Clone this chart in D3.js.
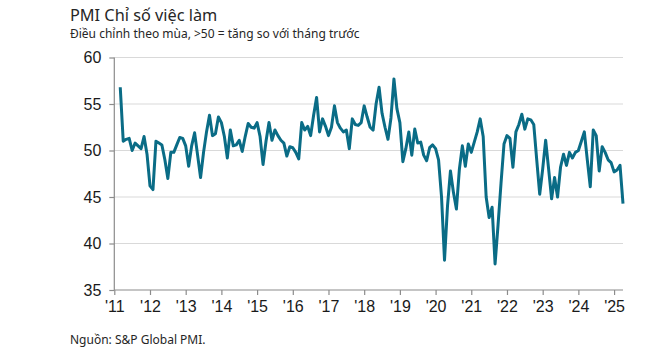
<!DOCTYPE html>
<html>
<head>
<meta charset="utf-8">
<script src="https://cdn.jsdelivr.net/npm/d3@7"></script>
<style>
  body { margin: 0; background: #fff; }
  svg { display: block; }
</style>
</head>
<body>
<div id="chart"></div>
<script>
// monthly employment index, Mar 2011 .. Apr 2025
var startMonth = 2; // months after Jan 2011
var values = [
  56.8, 51.0, 51.2, 51.3, 50.0, 50.8, 50.5, 50.2, 51.5, 49.6,
  46.2, 45.8, 51.0, 50.8, 50.6, 49.0, 47.0, 49.8, 49.8, 50.6, 51.4, 51.3,
  50.5, 48.3, 50.5, 51.9, 49.5, 47.1, 49.8, 52.0, 53.8, 51.6, 51.8, 53.6,
  53.0, 51.5, 49.2, 52.2, 50.5, 50.6, 51.1, 49.9, 51.5, 52.9, 52.5, 52.4,
  53.0, 51.5, 48.5, 51.0, 53.0, 51.1, 52.2, 51.6, 51.1, 50.8, 49.4, 50.4,
  50.3, 49.8, 49.1, 53.0, 52.2, 52.6, 51.6, 53.8, 55.7, 52.0, 53.4, 52.6,
  51.6, 52.5, 54.8, 53.0, 52.4, 52.0, 52.2, 50.2, 53.4, 52.8, 52.7, 53.0,
  54.8, 53.6, 52.5, 52.2, 55.0, 56.8, 54.0, 52.5, 51.2, 53.5, 57.7, 54.5,
  53.0, 48.8, 50.2, 52.0, 49.5, 52.3, 50.8, 50.9, 49.5, 48.9, 50.3, 50.6,
  50.2, 49.0, 45.0, 38.2, 44.0, 47.8, 45.5, 43.7, 48.0, 50.5, 48.3, 50.7,
  49.8, 50.9, 52.0, 53.4, 51.5, 45.0, 42.8, 43.9, 37.8, 42.0, 46.5, 50.7,
  51.6, 51.3, 48.2, 52.0, 52.8, 53.9, 52.3, 53.4, 53.3, 52.8, 49.0, 45.3,
  48.0, 51.1, 48.0, 44.8, 47.1, 45.0, 48.2, 49.6, 48.4, 49.8, 49.2, 49.8,
  50.0, 51.0, 52.0, 49.0, 46.1, 52.2, 51.6, 47.8, 50.4, 49.8, 49.0, 48.7,
  47.7, 47.9, 48.4, 44.3
];
var yearLabels = ["'11", "'12", "'13", "'14", "'15", "'16", "'17", "'18",
                  "'19", "'20", "'21", "'22", "'23", "'24", "'25"];
var yTicks = [35, 40, 45, 50, 55, 60];

var W = 669, H = 352;
var svg = d3.select("#chart").append("svg")
    .attr("width", W)
    .attr("height", H);

var x = d3.scaleLinear().domain([0, 171]).range([114.3, 623]);
var y = d3.scaleLinear().domain([35, 60]).range([290, 57.5]);

// titles
svg.append("text")
    .attr("x", 70).attr("y", 21)
    .style("font-family", "'Source Sans Pro', 'Noto Sans', sans-serif")
    .style("font-size", "16.3px")
    .style("fill", "#262626")
    .text("PMI Chỉ số việc làm");
svg.append("text")
    .attr("x", 70).attr("y", 38)
    .style("font-family", "'Source Sans Pro', 'Noto Sans', sans-serif")
    .style("font-size", "12px")
    .style("fill", "#262626")
    .text("Điều chỉnh theo mùa, >50 = tăng so với tháng trước");
svg.append("text")
    .attr("x", 70).attr("y", 344)
    .style("font-family", "'Source Sans Pro', 'Noto Sans', sans-serif")
    .style("font-size", "12px")
    .style("fill", "#262626")
    .text("Nguồn: S&P Global PMI.");

// gridlines
svg.append("g")
  .selectAll("line")
  .data(yTicks.slice(1))
  .join("line")
    .attr("x1", x(0)).attr("x2", x(171))
    .attr("y1", function(d) { return y(d); })
    .attr("y2", function(d) { return y(d); })
    .style("stroke", "#d9d9d9")
    .style("stroke-width", 1.2);

// axes
var yAxis = svg.append("g")
    .attr("transform", "translate(" + x(0) + ",0)")
    .call(d3.axisLeft(y).tickValues(yTicks).tickSize(5).tickPadding(8)
      .tickFormat(d3.format("d")));
var xAxis = svg.append("g")
    .attr("transform", "translate(0," + y(35) + ")")
    .call(d3.axisBottom(x).tickValues(d3.range(0, 169, 12)).tickSize(5).tickPadding(6)
      .tickFormat(function(d, i) { return yearLabels[i]; }));

[yAxis, xAxis].forEach(function(a) {
  a.select(".domain").style("stroke", "#8c8c8c").style("stroke-width", 1.2);
  a.selectAll(".tick line").style("stroke", "#8c8c8c").style("stroke-width", 1.2);
  a.selectAll("text")
    .style("font-family", "'Liberation Sans', Arial, sans-serif")
    .style("font-size", "16px")
    .style("fill", "#1a1a1a");
});
xAxis.select(".domain").attr("d", "M" + x(0) + ",0H" + x(171));
yAxis.select(".domain").attr("d", "M0," + y(35) + "V" + y(60));

// line
var line = d3.line()
    .x(function(d, i) { return x(startMonth + i); })
    .y(function(d) { return y(d); });

svg.append("path")
    .datum(values)
    .attr("d", line)
    .style("fill", "none")
    .style("stroke", "#0a6c86")
    .style("stroke-width", 3)
    .style("stroke-linejoin", "round");
</script>
</body>
</html>
